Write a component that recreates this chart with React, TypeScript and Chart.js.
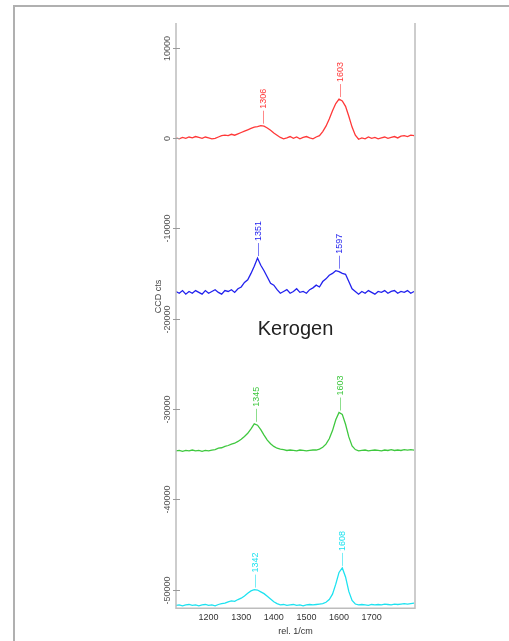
import React, { useEffect, useRef } from "react";
import { Chart, registerables } from "chart.js";

Chart.register(...registerables);

// Raman shift (rel. 1/cm)
const wavenumbers = [
  1100, 1110, 1120, 1130, 1140, 1150, 1160, 1170, 1180, 1190,
  1200, 1210, 1220, 1230, 1240, 1250, 1260, 1270, 1280, 1290,
  1300, 1310, 1320, 1330, 1340, 1350, 1360, 1370, 1380, 1390,
  1400, 1410, 1420, 1430, 1440, 1450, 1460, 1470, 1480, 1490,
  1500, 1510, 1520, 1530, 1540, 1550, 1560, 1570, 1580, 1590,
  1600, 1610, 1620, 1630, 1640, 1650, 1660, 1670, 1680, 1690,
  1700, 1710, 1720, 1730, 1740, 1750, 1760, 1770, 1780, 1790,
  1800, 1810, 1820, 1830,
];

const redCounts = [
  0, -100, 50, -50, 100, 0, 150, 50, -50, 100,
  0, -100, -50, 100, 250, 300, 250, 400, 300, 450,
  600, 750, 900, 1050, 1200, 1250, 1350, 1300, 1100, 850,
  550, 300, 50, -100, 0, 150, -50, 100, -100, 50,
  150, 0, -100, 100, 250, 700, 1300, 2100, 3000, 3800,
  4300, 4100, 3500, 2400, 1200, 300, -150, 0, -100, 100,
  -50, 50, -100, 0, 100, -50, 50, 150, 0, 200,
  250, 150, 300, 250,
];

const blueCounts = [
  -17000, -17200, -16900, -17300, -17000, -17200, -16900, -17100, -17300, -16900,
  -17200, -17000, -16800, -17100, -17300, -16900, -17000, -16800, -17100, -16700,
  -16500, -16000, -15700, -15000, -14200, -13300, -14100, -14700, -15400, -16100,
  -16300, -16800, -17200, -17000, -16800, -17200, -17000, -16700, -17100, -17000,
  -17200, -16800, -16600, -16300, -16500, -15900, -15600, -15200, -15000, -14700,
  -14800, -15000, -15100, -15900, -16700, -17000, -17300, -17000, -17200, -16900,
  -17100, -17300, -17000, -17100, -16900, -17200, -17000, -16900, -17200, -17000,
  -17100, -16900, -17200, -17000,
];

const greenCounts = [
  -34650, -34600, -34700, -34600, -34650, -34550, -34650, -34600, -34700, -34600,
  -34650, -34550, -34500, -34350, -34300, -34150, -34050, -33900, -33800, -33600,
  -33350, -33050, -32700, -32200, -31650, -31800, -32300, -32900, -33450, -33850,
  -34150, -34350, -34450, -34500, -34600, -34550, -34600, -34650, -34550, -34600,
  -34650, -34600, -34550, -34550, -34450, -34250, -33900, -33300, -32400, -31200,
  -30400, -30600, -31700, -33100, -34100, -34500, -34650, -34600, -34550, -34650,
  -34600, -34550, -34600, -34650, -34550, -34600, -34500, -34600, -34550, -34600,
  -34500, -34550, -34500, -34550,
];

const cyanCounts = [
  -51750, -51700, -51800, -51700, -51650, -51750, -51700, -51800, -51700, -51650,
  -51750, -51700, -51800, -51650, -51550, -51500, -51350, -51250, -51300, -51100,
  -50950, -50700, -50400, -50150, -50000, -50050, -50250, -50450, -50750, -51050,
  -51350, -51550, -51700, -51650, -51750, -51700, -51650, -51750, -51700, -51800,
  -51700, -51650, -51700, -51650, -51600, -51550, -51400, -51100, -50500, -49400,
  -48100, -47600, -48600, -50200, -51200, -51600, -51700, -51650, -51700, -51750,
  -51650, -51700, -51650, -51700, -51600, -51650, -51700, -51600, -51650, -51600,
  -51550, -51600, -51550, -51500,
];

const xTicks = [1200, 1300, 1400, 1500, 1600, 1700];
const yTicks = [10000, 0, -10000, -20000, -30000, -40000, -50000];

const redPeakAt = [1366, 1603];
const redPeakText = ["1306", "1603"];
const bluePeakAt = [1350, 1599];
const bluePeakText = ["1351", "1597"];
const greenPeakAt = [1345, 1603];
const greenPeakText = ["1345", "1603"];
const cyanPeakAt = [1343, 1608];
const cyanPeakText = ["1342", "1608"];

const seriesColors = ["#ff3838", "#2222ee", "#3fc83f", "#1ee2f0"];
const chartLabel = "Kerogen";
const xTitle = "rel. 1/cm";
const yTitle = "CCD cts";

const FONT = "'Liberation Sans', Arial, sans-serif";

const series = [
  { values: redCounts, at: redPeakAt, text: redPeakText, color: seriesColors[0] },
  { values: blueCounts, at: bluePeakAt, text: bluePeakText, color: seriesColors[1] },
  { values: greenCounts, at: greenPeakAt, text: greenPeakText, color: seriesColors[2] },
  { values: cyanCounts, at: cyanPeakAt, text: cyanPeakText, color: seriesColors[3] },
];

const decorPlugin = {
  id: "decor",
  afterDatasetsDraw(chart: any) {
    const { ctx, chartArea } = chart;
    const xs = chart.scales.x;
    const ys = chart.scales.y;
    const { left, right, top, bottom } = chartArea;
    ctx.save();

    // plot frame (left, right, bottom)
    ctx.strokeStyle = "#bdbdbd";
    ctx.lineWidth = 1.5;
    ctx.beginPath();
    ctx.moveTo(left, top);
    ctx.lineTo(left, bottom);
    ctx.lineTo(right, bottom);
    ctx.lineTo(right, top);
    ctx.stroke();

    // y ticks and labels
    ctx.strokeStyle = "#999";
    ctx.lineWidth = 1;
    ctx.fillStyle = "#555";
    ctx.font = `9px ${FONT}`;
    for (const v of yTicks) {
      const py = Math.round(ys.getPixelForValue(v)) + 0.5;
      ctx.beginPath();
      ctx.moveTo(left - 3, py);
      ctx.lineTo(left + 4, py);
      ctx.stroke();
      ctx.save();
      ctx.translate(left - 8, py);
      ctx.rotate(-Math.PI / 2);
      ctx.textAlign = "center";
      ctx.textBaseline = "middle";
      ctx.fillText(String(v), 0, 0);
      ctx.restore();
    }

    // y title
    ctx.save();
    ctx.translate(left - 17, (top + bottom) / 2 - 19);
    ctx.rotate(-Math.PI / 2);
    ctx.textAlign = "center";
    ctx.textBaseline = "middle";
    ctx.fillStyle = "#444";
    ctx.fillText(yTitle, 0, 0);
    ctx.restore();

    // peak labels
    ctx.font = `9px ${FONT}`;
    for (const s of series) {
      s.at.forEach((pos: number, i: number) => {
        let best = -Infinity;
        wavenumbers.forEach((w, k) => {
          if (Math.abs(w - pos) <= 10 && s.values[k] > best) best = s.values[k];
        });
        const px = Math.round(xs.getPixelForValue(pos)) + 0.5;
        const py = ys.getPixelForValue(best);
        ctx.save();
        ctx.strokeStyle = s.color;
        ctx.globalAlpha = 0.6;
        ctx.lineWidth = 1;
        ctx.beginPath();
        ctx.moveTo(px, py - 2);
        ctx.lineTo(px, py - 15);
        ctx.stroke();
        ctx.globalAlpha = 1;
        ctx.fillStyle = s.color;
        ctx.translate(px, py - 17);
        ctx.rotate(-Math.PI / 2);
        ctx.textAlign = "left";
        ctx.textBaseline = "middle";
        ctx.fillText(s.text[i], 0, 0);
        ctx.restore();
      });
    }

    // centered caption
    ctx.fillStyle = "#222";
    ctx.font = `20px ${FONT}`;
    ctx.textAlign = "center";
    ctx.textBaseline = "alphabetic";
    ctx.fillText(chartLabel, (left + right) / 2, 335);

    ctx.restore();
  },
};

export default function App() {
  const canvasRef = useRef<HTMLCanvasElement | null>(null);

  useEffect(() => {
    const canvas = canvasRef.current;
    if (!canvas) return;
    const datasets = series.map((s, idx) => ({
      label: `spectrum ${idx + 1}`,
      data: wavenumbers.map((w, k) => ({ x: w, y: s.values[k] })),
      borderColor: s.color,
      borderWidth: 1.3,
      pointRadius: 0,
      fill: false,
      tension: 0,
    }));
    const chart = new Chart(canvas, {
      type: "line",
      data: { datasets },
      options: {
        animation: false,
        responsive: false,
        layout: { padding: { left: 176, right: 94, top: 23, bottom: 5 } },
        plugins: { legend: { display: false }, tooltip: { enabled: false } },
        scales: {
          x: {
            type: "linear",
            min: 1100,
            max: 1833,
            afterBuildTicks: (axis: any) => {
              axis.ticks = xTicks.map((v) => ({ value: v }));
            },
            grid: { display: false, drawTicks: false },
            border: { display: false },
            ticks: {
              padding: 4,
              color: "#333",
              font: { family: FONT, size: 9 },
              maxRotation: 0,
              autoSkip: false,
              callback: (value: any) => String(value),
            },
            title: {
              display: true,
              text: xTitle,
              color: "#333",
              padding: { top: 0, bottom: 0 },
              font: { family: FONT, size: 9, lineHeight: 1 },
            },
          },
          y: {
            type: "linear",
            min: -52060,
            max: 12720,
            display: false,
          },
        },
      },
      plugins: [decorPlugin],
    });
    return () => chart.destroy();
  }, []);

  return (
    <div style={{ position: "fixed", left: 0, top: 0, width: 509, height: 641, background: "#fff", overflow: "hidden" }}>
      <div
        style={{
          position: "absolute",
          left: 13,
          top: 5,
          width: 520,
          height: 660,
          borderTop: "2px solid #b0b0b0",
          borderLeft: "2px solid #b0b0b0",
        }}
      />
      <canvas ref={canvasRef} width={509} height={641} style={{ position: "absolute", left: 0, top: 0 }} />
    </div>
  );
}
